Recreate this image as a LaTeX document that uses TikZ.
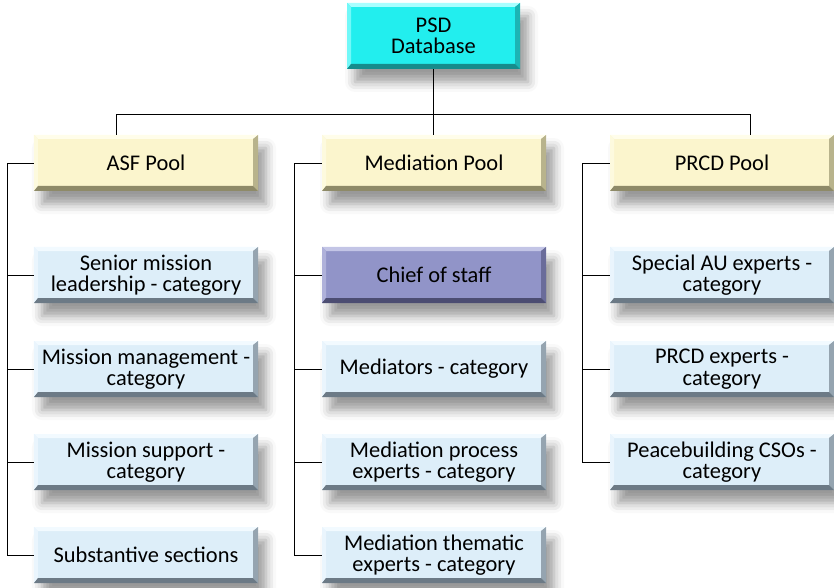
\documentclass[tikz,border=0pt]{standalone}
\usepackage{fontspec}
\setmainfont{Carlito}
\usetikzlibrary{shadows.blur}
\definecolor{cyanM}{HTML}{22EEEE}\definecolor{cyanL}{HTML}{A8FFFF}\definecolor{cyanD}{HTML}{168C8C}\definecolor{cyanR}{HTML}{1CB4B4}
\definecolor{poolM}{HTML}{FBF5CD}\definecolor{poolL}{HTML}{FFFDEA}\definecolor{poolD}{HTML}{8E8A68}\definecolor{poolR}{HTML}{B8B38C}
\definecolor{catM}{HTML}{DDEEF9}\definecolor{catL}{HTML}{F2FAFF}\definecolor{catD}{HTML}{6C7A86}\definecolor{catR}{HTML}{95A4B0}
\definecolor{chiefM}{HTML}{9194C8}\definecolor{chiefL}{HTML}{C3C5E6}\definecolor{chiefD}{HTML}{4C4D72}\definecolor{chiefR}{HTML}{6A6C9A}
\tikzset{
  bev/.style n args={4}{fill=#1, inner sep=0pt, align=center, font=\fontsize{22.5}{21.5}\selectfont,
    blur shadow={shadow xshift=8bp, shadow yshift=-13bp, shadow blur radius=10bp, shadow opacity=40},
    path picture={
      \coordinate (nw) at (path picture bounding box.north west);
      \coordinate (ne) at (path picture bounding box.north east);
      \coordinate (sw) at (path picture bounding box.south west);
      \coordinate (se) at (path picture bounding box.south east);
      \fill[#2] (nw) -- (ne) -- ([xshift=-5bp,yshift=-4bp]ne) -- ([xshift=4bp,yshift=-4bp]nw) -- cycle;
      \fill[#2!60!#1] (nw) -- ([xshift=4bp,yshift=-4bp]nw) -- ([xshift=4bp,yshift=5bp]sw) -- (sw) -- cycle;
      \fill[#4] (ne) -- (se) -- ([xshift=-5bp,yshift=5bp]se) -- ([xshift=-5bp,yshift=-4bp]ne) -- cycle;
      \fill[#3] (sw) -- (se) -- ([xshift=-5bp,yshift=5bp]se) -- ([xshift=4bp,yshift=5bp]sw) -- cycle;
    }},
  psdbox/.style={bev={cyanM}{cyanL}{cyanD}{cyanR}, minimum width=173bp, minimum height=66bp},
  poolbox/.style={bev={poolM}{poolL}{poolD}{poolR}, minimum width=224bp, minimum height=56bp},
  catbox/.style={bev={catM}{catL}{catD}{catR}, minimum width=224bp, minimum height=56bp},
  chiefbox/.style={bev={chiefM}{chiefL}{chiefD}{chiefR}, minimum width=224bp, minimum height=56bp},
  conn/.style={draw=black, line width=0.9bp}
}
\begin{document}
\begin{tikzpicture}[x=1bp,y=-1bp]
\useasboundingbox (0,0) rectangle (834,588);
\node[psdbox] (psd) at (433.5,36) {PSD\\Database};
\node[poolbox] (asf) at (146,163) {ASF Pool};
\node[poolbox] (med) at (434,163) {Mediation Pool};
\node[poolbox] (prcd) at (722,163) {PRCD Pool};
% ASF children
\node[catbox] (a1) at (146,275) {Senior mission\\leadership - category};
\node[catbox] (a2) at (146,369) {Mission management -\\category};
\node[catbox] (a3) at (146,462) {Mission support -\\category};
\node[catbox] (a4) at (146,555) {Substantive sections};
% Mediation children
\node[chiefbox] (m1) at (434,275) {Chief of staff};
\node[catbox] (m2) at (434,369) {Mediators - category};
\node[catbox] (m3) at (434,462) {Mediation process\\experts - category};
\node[catbox] (m4) at (434,555) {Mediation thematic\\experts - category};
% PRCD children
\node[catbox] (p1) at (722,275) {Special AU experts -\\category};
\node[catbox] (p2) at (722,369) {PRCD experts -\\category};
\node[catbox] (p3) at (722,462) {Peacebuilding CSOs -\\category};
% connectors
\coordinate (ja) at (116,114);
\coordinate (jp) at (750,114);
\coordinate (la) at (7,0);
\coordinate (lm) at (294,0);
\coordinate (lp) at (582,0);
\draw[conn] (psd.south) -- (psd.south |- med.north);
\draw[conn] (ja |- asf.north) -- (ja) -- (jp) -- (jp |- prcd.north);
\draw[conn] (asf.west) -- (asf.west -| la) -- (a4.west -| la) -- (a4.west);
\foreach \n in {a1,a2,a3} \draw[conn] (\n.west) -- (\n.west -| la);
\draw[conn] (med.west) -- (med.west -| lm) -- (m4.west -| lm) -- (m4.west);
\foreach \n in {m1,m2,m3} \draw[conn] (\n.west) -- (\n.west -| lm);
\draw[conn] (prcd.west) -- (prcd.west -| lp) -- (p3.west -| lp) -- (p3.west);
\foreach \n in {p1,p2} \draw[conn] (\n.west) -- (\n.west -| lp);
\end{tikzpicture}
\end{document}
